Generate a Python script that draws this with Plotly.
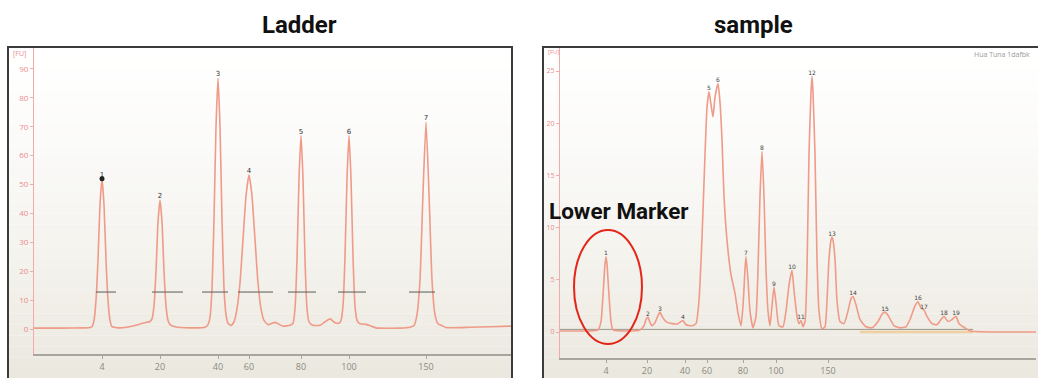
import plotly.graph_objects as go

# ---------------- data ----------------
ladder_sizes = [4, 20, 40, 60, 80, 100, 150]
ladder_peak_time = [24.8, 30.6, 36.4, 39.5, 44.7, 49.5, 57.2]
ladder_peak_fu = [52.0, 44.6, 86.8, 53.3, 67.0, 67.0, 71.6]
ladder_peak_id = ["1", "2", "3", "4", "5", "6", "7"]
ladder_bar_start = [24.2, 29.8, 34.8, 38.4, 43.4, 48.4, 55.5]
ladder_bar_end = [26.2, 32.9, 37.4, 41.9, 46.2, 51.2, 58.1]
ladder_bar_level = 12.8

ladder_time = [18.0, 20.6, 23.1, 23.6, 23.8, 24.0, 24.2, 24.4, 24.6, 24.8, 25.0, 25.2, 25.4, 25.6, 25.8,
               26.4, 27.1, 28.1, 29.1, 29.6, 29.8, 30.0, 30.2, 30.4, 30.6, 30.8, 31.0, 31.2, 31.4, 31.6,
               32.1, 33.6, 35.1, 35.4, 35.6, 35.8, 36.0, 36.2, 36.4, 36.6, 36.8, 37.0, 37.2, 37.4, 37.7,
               38.0, 38.3, 38.6, 38.9, 39.2, 39.5, 39.8, 40.1, 40.4, 40.7, 41.0, 41.4, 42.1, 42.9, 43.6,
               43.9, 44.1, 44.3, 44.5, 44.7, 44.9, 45.1, 45.3, 45.5, 45.9, 46.6, 47.1, 47.6, 48.1, 48.5,
               48.7, 48.9, 49.1, 49.3, 49.5, 49.7, 49.9, 50.1, 50.3, 50.6, 51.2, 51.6, 52.2, 54.6, 55.6,
               56.0, 56.3, 56.6, 56.9, 57.2, 57.5, 57.8, 58.1, 58.4, 58.8, 59.2, 61.6, 63.6, 65.7]
ladder_fu = [0.3, 0.3, 0.4, 0.5, 0.8, 3, 10, 24, 43, 52, 43, 24, 10, 3, 0.8,
             0.4, 0.5, 1.2, 2.2, 2.6, 3.5, 8, 20, 37, 44.6, 37, 20, 8, 3, 1.5,
             0.8, 0.4, 0.6, 1.5, 4, 14, 38, 70, 86.8, 70, 38, 14, 5, 2, 1.2,
             2.5, 7, 16, 31, 46, 53.3, 46, 31, 16, 7, 3, 1.5, 2.3, 1.0, 1.3,
             2, 7, 24, 52, 67, 52, 24, 7, 2.5, 1.3, 1.3, 2.5, 3.5, 2.2, 2,
             3, 8, 25, 52, 67, 52, 25, 8, 3, 1.8, 1.6, 1.2, 0.4, 0.3, 0.6,
             1.2, 5, 17, 47, 71.6, 47, 17, 5, 1.8, 1.2, 0.5, 0.6, 0.8, 1.0]

sample_sizes = [4, 20, 40, 60, 80, 100, 150]
sample_size_time = [22.6, 26.7, 30.5, 32.7, 36.3, 39.6, 44.8]
sample_peak_time = [22.6, 26.8, 28.0, 30.3, 32.9, 33.8, 36.6, 38.2, 39.4, 41.2, 42.1, 43.2, 45.2,
                    47.3, 50.5, 53.8, 54.4, 56.4, 57.6]
sample_peak_fu = [7.2, 1.4, 1.9, 1.1, 23.0, 23.8, 7.2, 17.3, 4.3, 5.9, 1.1, 24.5, 9.1,
                  3.4, 1.9, 2.9, 2.1, 1.5, 1.5]
sample_peak_id = [str(i) for i in range(1, 20)]

sample_time = [18.0, 21.0, 21.8, 22.1, 22.3, 22.5, 22.6, 22.7, 22.9, 23.1, 23.3, 24.5, 26.0, 26.4, 26.6,
               26.8, 27.0, 27.2, 27.5, 27.8, 28.0, 28.2, 28.6, 29.2, 29.8, 30.1, 30.3, 30.6, 31.2, 31.6,
               31.9, 32.2, 32.5, 32.7, 32.9, 33.1, 33.3, 33.5, 33.8, 34.0, 34.2, 34.4, 34.7, 35.1, 35.5,
               35.8, 36.1, 36.3, 36.5, 36.6, 36.8, 37.0, 37.3, 37.6, 37.8, 38.0, 38.2, 38.4, 38.6, 38.8,
               39.0, 39.2, 39.4, 39.6, 39.9, 40.3, 40.6, 40.9, 41.2, 41.4, 41.7, 41.9, 42.1, 42.3, 42.5,
               42.7, 42.9, 43.1, 43.2, 43.3, 43.5, 43.7, 43.9, 44.2, 44.5, 44.7, 44.9, 45.1, 45.2, 45.3,
               45.5, 45.7, 46.0, 46.4, 46.8, 47.1, 47.3, 47.6, 48.0, 48.6, 49.2, 49.8, 50.2, 50.5, 50.8,
               51.4, 52.0, 52.6, 53.0, 53.5, 53.8, 54.1, 54.4, 54.7, 55.2, 55.7, 56.1, 56.4, 56.8, 57.2,
               57.6, 57.9, 58.5, 59.0, 62.0, 65.6]
sample_fu = [0.1, 0.1, 0.2, 1.0, 3.5, 6.5, 7.2, 6.5, 3.5, 1.0, 0.2, 0.1, 0.2, 0.6, 1.2,
             1.4, 0.9, 0.6, 0.9, 1.6, 1.9, 1.5, 1.0, 0.8, 0.8, 1.0, 1.1, 0.7, 0.6, 0.8,
             3, 9, 17, 21.5, 23.0, 21.8, 20.6, 22.5, 23.8, 22, 18.4, 13, 8.8, 5.5, 3.7,
             1.8, 0.6, 2.5, 6, 7.2, 5, 2, 0.4, 1.5, 6, 13, 17.3, 13, 6, 2,
             0.6, 2.5, 4.3, 2.8, 0.6, 0.5, 2, 4.5, 5.9, 4, 1.5, 0.8, 1.1, 0.5, 1,
             6, 17, 23, 24.5, 23, 17, 7, 2, 0.3, 0.5, 3, 7, 8.8, 9.1, 8.8,
             7, 3, 1, 0.8, 2, 3.2, 3.4, 2.6, 1.2, 0.5, 0.4, 1, 1.7, 1.9, 1.6,
             0.6, 0.4, 0.5, 1.2, 2.5, 2.9, 2.3, 2.1, 1.5, 0.8, 0.7, 1.2, 1.5, 1.0, 1.2,
             1.5, 0.8, 0.4, 0.1, 0.0, 0.0]
sample_baseline_time = [18.0, 59.3]
sample_baseline_fu = [0.25, 0.25]
sample_int_time = [48.0, 59.3]
sample_int_fu = [0.0, 0.0]

# ---------------- styling / geometry ----------------
W, H = 1038, 378
def px(x): return x / W
def py(y): return 1 - y / H

TRACE = "#f09a88"
PINK = "#f2aaaa"
PINKTXT = "#ec8c8c"
GRAYAX = "#a8a69c"
GRAYTXT = "#8c8a80"
TITLEFONT = "Roboto, Arial, sans-serif"

fig = go.Figure()

# ladder trace
fig.add_trace(go.Scatter(x=ladder_time, y=ladder_fu, mode="lines", xaxis="x", yaxis="y",
                         line=dict(color=TRACE, width=1.6, shape="spline", smoothing=0.5),
                         hoverinfo="skip", showlegend=False))
for s, e in zip(ladder_bar_start, ladder_bar_end):
    fig.add_trace(go.Scatter(x=[s, e], y=[ladder_bar_level, ladder_bar_level], mode="lines",
                             xaxis="x", yaxis="y", line=dict(color="#5a5a55", width=1),
                             hoverinfo="skip", showlegend=False))
fig.add_trace(go.Scatter(x=ladder_peak_time, y=ladder_peak_fu, mode="text", text=ladder_peak_id,
                         textposition="top center", xaxis="x", yaxis="y",
                         textfont=dict(size=7, color="#333333", family="DejaVu Sans"),
                         hoverinfo="skip", showlegend=False))
fig.add_trace(go.Scatter(x=ladder_peak_time[:1], y=ladder_peak_fu[:1], mode="markers", xaxis="x", yaxis="y",
                         marker=dict(size=5, color="#222222"), hoverinfo="skip", showlegend=False))

# sample traces
fig.add_trace(go.Scatter(x=sample_baseline_time, y=sample_baseline_fu, mode="lines", xaxis="x2", yaxis="y2",
                         line=dict(color="#9a9890", width=1), hoverinfo="skip", showlegend=False))
fig.add_trace(go.Scatter(x=sample_int_time, y=sample_int_fu, mode="lines", xaxis="x2", yaxis="y2",
                         line=dict(color="rgba(240,190,120,0.6)", width=2.5), hoverinfo="skip", showlegend=False))
fig.add_trace(go.Scatter(x=sample_time, y=sample_fu, mode="lines", xaxis="x2", yaxis="y2",
                         line=dict(color=TRACE, width=1.6, shape="spline", smoothing=0.5),
                         hoverinfo="skip", showlegend=False))
fig.add_trace(go.Scatter(x=sample_peak_time, y=sample_peak_fu, mode="text", text=sample_peak_id,
                         textposition="top center", xaxis="x2", yaxis="y2",
                         textfont=dict(size=6, color="#444444", family="DejaVu Sans"),
                         hoverinfo="skip", showlegend=False))

# background gradient bands + frames
shapes = []
N = 30
top, bot = 47, 380
for i in range(N):
    y0 = top + (bot - top) * i / N
    y1 = top + (bot - top) * (i + 1) / N
    f = (i + 0.5) / N
    f = f ** 1.3
    c = tuple(round(255 * (1 - f) + cc * f) for cc in (234, 232, 222))
    col = "rgb(%d,%d,%d)" % c
    for x0, x1 in ((8, 512), (543, 1040)):
        shapes.append(dict(type="rect", xref="paper", yref="paper", x0=px(x0), x1=px(x1),
                           y0=py(y1), y1=py(y0), fillcolor=col, line=dict(width=0), layer="below"))
for x0, x1 in ((8, 512), (543, 1041)):
    shapes.append(dict(type="rect", xref="paper", yref="paper", x0=px(x0), x1=px(x1),
                       y0=py(382), y1=py(47), line=dict(color="#3c3c3c", width=2), layer="above"))
# red ellipse around the lower marker
shapes.append(dict(type="circle", xref="paper", yref="paper", x0=px(574), x1=px(642),
                   y0=py(344), y1=py(230), line=dict(color="#e42618", width=2)))

annotations = [
    dict(text="<b>Ladder</b>", x=px(260), y=py(25), xref="paper", yref="paper", showarrow=False,
         yanchor="middle", font=dict(family=TITLEFONT, size=24, color="#111111")),
    dict(text="<b>sample</b>", x=px(795), y=py(25), xref="paper", yref="paper", showarrow=False,
         yanchor="middle", font=dict(family=TITLEFONT, size=24, color="#111111")),
    dict(text="<b>Lower Marker</b>", x=px(547), y=py(211), xref="paper", yref="paper", showarrow=False,
         xanchor="left", yanchor="middle", font=dict(family=TITLEFONT, size=22.5, color="#111111")),
    dict(text="[FU]", x=px(11), y=py(53), xref="paper", yref="paper", showarrow=False, xanchor="left",
         yanchor="middle", font=dict(size=7, color=PINKTXT)),
    dict(text="[FU]", x=px(546), y=py(52), xref="paper", yref="paper", showarrow=False, xanchor="left",
         yanchor="middle", font=dict(size=6, color=PINKTXT)),
    dict(text="Hua Tuna 1dafbk", x=px(1032), y=py(55), xref="paper", yref="paper", showarrow=False,
         xanchor="right", yanchor="middle", font=dict(size=7, color="#9a9a9a")),
]

fig.update_layout(
    width=W, height=H, margin=dict(l=0, r=0, t=0, b=0),
    paper_bgcolor="white", plot_bgcolor="rgba(0,0,0,0)",
    shapes=shapes, annotations=annotations, showlegend=False,
    xaxis=dict(domain=[px(34), px(511)], range=[18.0, 65.7], anchor="y",
               tickvals=ladder_peak_time, ticktext=[str(s) for s in ladder_sizes],
               showline=True, linecolor=GRAYAX, linewidth=1.5, ticks="outside", ticklen=3,
               tickcolor=GRAYAX, tickfont=dict(size=9, color=GRAYTXT), showgrid=False, zeroline=False),
    yaxis=dict(domain=[py(354), py(47)], range=[-8.65, 97.6], anchor="x",
               tickvals=[0, 10, 20, 30, 40, 50, 60, 70, 80, 90],
               showline=True, linecolor=PINK, linewidth=1.2, ticks="outside", ticklen=3,
               tickcolor=PINK, tickfont=dict(size=8, color=PINKTXT), showgrid=False, zeroline=False),
    xaxis2=dict(domain=[px(560), px(1036)], range=[18.0, 65.6], anchor="y2",
                tickvals=sample_size_time, ticktext=[str(s) for s in sample_sizes],
                showline=True, linecolor=GRAYAX, linewidth=1.5, ticks="outside", ticklen=3,
                tickcolor=GRAYAX, tickfont=dict(size=9, color=GRAYTXT), showgrid=False, zeroline=False),
    yaxis2=dict(domain=[py(358), py(47)], range=[-2.49, 27.3], anchor="x2",
                tickvals=[0, 5, 10, 15, 20, 25],
                showline=True, linecolor=PINK, linewidth=1.2, ticks="outside", ticklen=3,
                tickcolor=PINK, tickfont=dict(size=7, color=PINKTXT), showgrid=False, zeroline=False),
)

fig.write_html("out.html")
